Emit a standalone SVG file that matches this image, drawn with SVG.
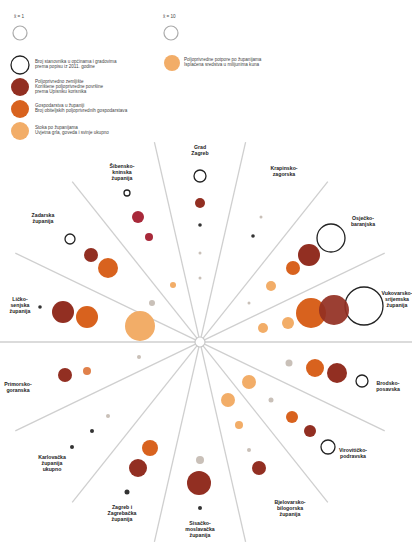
<svg xmlns="http://www.w3.org/2000/svg" width="412" height="542" viewBox="0 0 412 542">
<style>
text{font-family:"Liberation Sans",Arial,sans-serif;fill:#222}
.lab{font-size:5.2px;font-weight:bold;text-anchor:middle}
.leg{font-size:4.6px;fill:#444}
.sp{stroke:#cfcfcf;stroke-width:1.3;fill:none}
.dr{fill:#922f22}
.cr{fill:#a8293a}
.or{fill:#d8621e}
.lo{fill:#f2ad68}
.ol{fill:#fff;stroke:#222;stroke-width:1.3}
.gr{fill:#c9c0b8}
.bk{fill:#333}
.gl{fill:#fff;stroke:#aaa;stroke-width:1.2}
</style>
<rect width="412" height="542" fill="#fff"/>
<g id="legend">
<text class="leg" x="14" y="18">x̄ = 1</text>
<circle class="gl" cx="20" cy="33" r="7"/>
<text class="leg" x="163" y="18">x̄ = 10</text>
<circle class="gl" cx="171" cy="33" r="7"/>
<circle class="ol" cx="20" cy="65" r="9"/>
<text class="leg" x="35" y="63">Broj stanovnika u općinama i gradovima</text>
<text class="leg" x="35" y="68">prema popisu iz 2011. godine</text>
<circle class="dr" cx="20" cy="87" r="9"/>
<text class="leg" x="35" y="83">Poljoprivredno zemljište</text>
<text class="leg" x="35" y="88">Korištene poljoprivredne površine</text>
<text class="leg" x="35" y="93">prema Upisniku korisnika</text>
<circle class="or" cx="20" cy="109" r="9"/>
<text class="leg" x="35" y="107">Gospodarstva u županiji</text>
<text class="leg" x="35" y="112">Broj obiteljskih poljoprivrednih gospodarstava</text>
<circle class="lo" cx="20" cy="131" r="9"/>
<text class="leg" x="35" y="129">Stoka po županijama</text>
<text class="leg" x="35" y="134">Uvjetna grla, goveda i svinje ukupno</text>
<circle class="lo" cx="172" cy="63" r="8"/>
<text class="leg" x="184" y="61">Poljoprivredne potpore po županijama</text>
<text class="leg" x="184" y="66">Isplaćena sredstva u milijunima kuna</text>
</g>
<g id="connectors">
<line class="sp" x1="0" y1="342" x2="195" y2="342"/>
<line class="sp" x1="205" y1="342" x2="412" y2="342"/>
<line class="sp" x1="204.5" y1="339.8" x2="384.7" y2="253.1"/>
<line class="sp" x1="203.1" y1="338.1" x2="327.8" y2="181.7"/>
<line class="sp" x1="201.1" y1="337.1" x2="245.6" y2="142.1"/>
<line class="sp" x1="198.9" y1="337.1" x2="154.4" y2="142.1"/>
<line class="sp" x1="196.9" y1="338.1" x2="72.2" y2="181.7"/>
<line class="sp" x1="195.5" y1="339.8" x2="15.3" y2="253.1"/>
<line class="sp" x1="204.5" y1="344.2" x2="384.7" y2="430.9"/>
<line class="sp" x1="203.1" y1="345.9" x2="327.8" y2="502.3"/>
<line class="sp" x1="201.1" y1="346.9" x2="245.6" y2="541.9"/>
<line class="sp" x1="198.9" y1="346.9" x2="154.4" y2="541.9"/>
<line class="sp" x1="196.9" y1="345.9" x2="72.2" y2="502.3"/>
<line class="sp" x1="195.5" y1="344.2" x2="15.3" y2="430.9"/>
<circle cx="200" cy="342" r="5" fill="#fff" stroke="#c8c8c8" stroke-width="1.2"/>
</g>
<g id="sector-top">
<text class="lab" x="200" y="149">Grad</text>
<text class="lab" x="200" y="155">Zagreb</text>
<circle class="ol" cx="200" cy="176" r="6"/>
<circle class="dr" cx="200" cy="203" r="5"/>
<circle class="bk" cx="200" cy="225" r="1.8"/>
<circle class="gr" cx="200" cy="253" r="1.5"/>
<circle class="gr" cx="200" cy="278" r="1.5"/>
</g>
<g id="sector-top-right">
<text class="lab" x="284" y="170">Krapinsko-</text>
<text class="lab" x="284" y="176">zagorska</text>
<circle class="gr" cx="261" cy="217" r="1.5"/>
<circle class="bk" cx="253" cy="236" r="1.8"/>
</g>
<g id="sector-right-upper">
<text class="lab" x="363" y="220">Osječko-</text>
<text class="lab" x="363" y="226">baranjska</text>
<circle class="ol" cx="331" cy="238" r="14"/>
<circle class="dr" cx="309" cy="255" r="11"/>
<circle class="or" cx="293" cy="268" r="7"/>
<circle class="lo" cx="271" cy="286" r="5"/>
<circle class="gr" cx="249" cy="303" r="1.5"/>
</g>
<g id="sector-right">
<text class="lab" x="397" y="295">Vukovarsko-</text>
<text class="lab" x="397" y="301">srijemska</text>
<text class="lab" x="397" y="307">županija</text>
<circle class="ol" cx="364" cy="306" r="19"/>
<circle class="or" cx="311" cy="313" r="15"/>
<circle class="dr" cx="334" cy="310" r="15" fill-opacity="0.92"/>
<circle class="lo" cx="288" cy="323" r="6"/>
<circle class="lo" cx="263" cy="328" r="5"/>
</g>
<g id="sector-right-lower">
<text class="lab" x="388" y="385">Brodsko-</text>
<text class="lab" x="388" y="391">posavska</text>
<circle class="ol" cx="362" cy="381" r="6"/>
<circle class="dr" cx="337" cy="373" r="10"/>
<circle class="or" cx="315" cy="368" r="9"/>
<circle class="gr" cx="289" cy="363" r="3.5"/>
<circle class="lo" cx="249" cy="382" r="7"/>
</g>
<g id="sector-lower-right">
<text class="lab" x="353" y="452">Virovitičko-</text>
<text class="lab" x="353" y="458">podravska</text>
<circle class="ol" cx="328" cy="447" r="7"/>
<circle class="dr" cx="310" cy="431" r="6"/>
<circle class="or" cx="292" cy="417" r="6"/>
<circle class="gr" cx="271" cy="400" r="2.5"/>
<circle class="lo" cx="228" cy="400" r="7"/>
</g>
<g id="sector-bottom-right">
<text class="lab" x="290" y="504">Bjelovarsko-</text>
<text class="lab" x="290" y="510">bilogorska</text>
<text class="lab" x="290" y="516">županija</text>
<circle class="dr" cx="259" cy="468" r="7"/>
<circle class="gr" cx="249" cy="450" r="2"/>
<circle class="lo" cx="239" cy="425" r="4"/>
</g>
<g id="sector-bottom">
<text class="lab" x="200" y="525">Sisačko-</text>
<text class="lab" x="200" y="531">moslavačka</text>
<text class="lab" x="200" y="537">županija</text>
<circle class="gr" cx="200" cy="460" r="4"/>
<circle class="dr" cx="199" cy="483" r="12"/>
<circle class="bk" cx="200" cy="508" r="2"/>
</g>
<g id="sector-bottom-left">
<text class="lab" x="122" y="509">Zagreb i</text>
<text class="lab" x="122" y="515">Zagrebačka</text>
<text class="lab" x="122" y="521">županija</text>
<circle class="or" cx="150" cy="448" r="8"/>
<circle class="dr" cx="138" cy="468" r="9"/>
<circle class="bk" cx="127" cy="492" r="2.5"/>
</g>
<g id="sector-lower-left">
<text class="lab" x="52" y="459">Karlovačka</text>
<text class="lab" x="52" y="465">županija</text>
<text class="lab" x="52" y="471">ukupno</text>
<circle class="gr" cx="108" cy="416" r="2"/>
<circle class="bk" cx="92" cy="431" r="2"/>
<circle class="bk" cx="72" cy="447" r="2"/>
</g>
<g id="sector-left-lower">
<text class="lab" x="18" y="386">Primorsko-</text>
<text class="lab" x="18" y="392">goranska</text>
<circle class="dr" cx="65" cy="375" r="7"/>
<circle class="or" cx="87" cy="371" r="4" fill-opacity="0.8"/>
<circle class="gr" cx="139" cy="357" r="2"/>
</g>
<g id="sector-left">
<text class="lab" x="20" y="301">Ličko-</text>
<text class="lab" x="20" y="307">senjska</text>
<text class="lab" x="20" y="313">županija</text>
<circle class="bk" cx="40" cy="307" r="1.8"/>
<circle class="dr" cx="63" cy="312" r="11"/>
<circle class="or" cx="87" cy="317" r="11"/>
<circle class="lo" cx="140" cy="326" r="15"/>
<circle class="gr" cx="152" cy="303" r="3"/>
<circle class="lo" cx="173" cy="285" r="3"/>
</g>
<g id="sector-left-upper">
<text class="lab" x="43" y="217">Zadarska</text>
<text class="lab" x="43" y="223">županija</text>
<circle class="ol" cx="70" cy="239" r="5"/>
<circle class="dr" cx="91" cy="255" r="7"/>
<circle class="or" cx="108" cy="268" r="10"/>
</g>
<g id="sector-top-left">
<text class="lab" x="122" y="168">Šibensko-</text>
<text class="lab" x="122" y="174">kninska</text>
<text class="lab" x="122" y="180">županija</text>
<circle class="ol" cx="127" cy="193" r="3"/>
<circle class="cr" cx="138" cy="217" r="6"/>
<circle class="cr" cx="149" cy="237" r="4"/>
</g>
</svg>
